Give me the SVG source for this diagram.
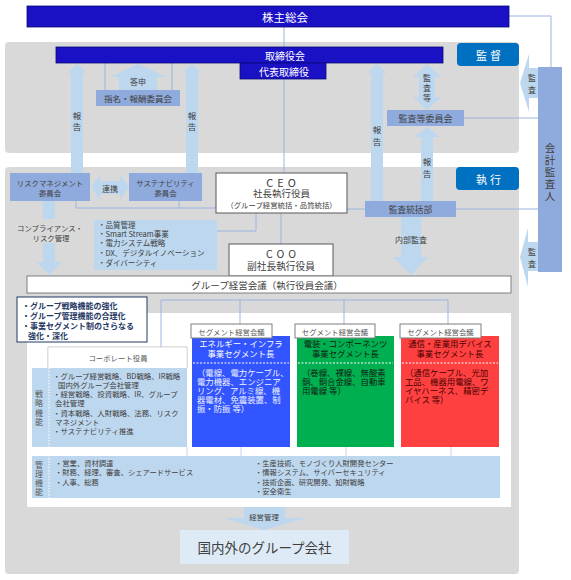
<svg xmlns="http://www.w3.org/2000/svg" width="571" height="580" viewBox="0 0 571 580">
<style>
text{font-family:"Noto Sans CJK JP","Noto Sans",sans-serif;dominant-baseline:central;text-anchor:middle;fill:#404040}
.w{fill:#fff}
.l{text-anchor:start}
.gray{fill:#d9d9d9}
.navy{fill:#1a10c4;stroke:#0c0a7a;stroke-width:0.8}
.mb{fill:#8faadc}
.lb{fill:#bdd7ee}
.ln{fill:none;stroke:#9ab4df;stroke-width:1}
.lnl{fill:none;stroke:#c9d6ea;stroke-width:1}
.wb{fill:#fff;stroke:#595959;stroke-width:1}
.lab{fill:#fff;stroke:#7f7f7f;stroke-width:1}
.s7{font-size:7.4px}
.s8{font-size:8px}
.s85{font-size:8.5px}
.seg{font-size:8.4px}
.g5{fill:#595959}
.nv{fill:#1f3864;font-weight:bold;font-size:8px}
</style>
<rect x="0" y="0" width="571" height="580" fill="#fff"/>
<g id="areas">
<rect x="5" y="42" width="514" height="111" rx="4" class="gray"/>
<rect x="5" y="167" width="514" height="407" rx="4" class="gray"/>
<rect x="27" y="313" width="484" height="194" fill="#fff"/>
</g>
<g id="connectors">
<path class="ln" d="M284 27V173"/>
<path class="ln" d="M509 16H551V67"/>
<path class="ln" d="M464 118H538"/>
<path class="ln" d="M347 209H538"/>
<path class="ln" d="M76 201V208H217M179 201V208"/>
<path class="ln" d="M217 231H256V213"/>
<path class="ln" d="M281 213V244"/>
<path class="ln" d="M105 63V90M172 63V90"/>
<path class="ln" d="M161 347V300H448V324M240 300V324M344 300V324"/>
<path class="lnl" d="M187 447V456M241 447V456M346 447V456M451 447V456"/>
<polygon class="lb" points="77,64 87,73 83,73 83,173 71,173 71,73 67,73"/>
<polygon class="lb" points="192,64 202,73 198,73 198,173 186,173 186,73 182,73"/>
<polygon class="lb" points="377,64 387,73 383,73 383,201 371,201 371,73 367,73"/>
<polygon class="lb" points="138,64 167,77 157,77 157,90 119,90 119,77 110,77"/>
<polygon class="lb" points="427,64 441,77 435,77 435,97 441,97 427,110 413,97 419,97 419,77 413,77"/>
<polygon class="lb" points="427,127 440,137 433,137 433,201 421,201 421,137 414,137"/>
<polygon class="lb" points="91,187 100,175 100,181 120,181 120,175 129,187 120,200 120,194 100,194 100,200"/>
<polygon class="lb" points="43,201 55,201 55,262 62,262 49,275 37,262 43,262"/>
<polygon class="lb" points="401,217 421,217 421,257 428,257 411,275 393,257 401,257"/>
<polygon class="lb" points="520,83 529,54 529,68 538,68 538,98 529,98 529,112"/>
<polygon class="lb" points="520,257 528,228 528,242 538,242 538,271 528,271 528,287"/>
<polygon class="lb" points="244,507 285,507 285,518 306,518 264,530 223,518 244,518"/>
<rect x="13" y="219" width="73" height="24" class="gray"/>
<text class="s7"><tspan x="50" y="227">コンプライアンス・</tspan><tspan x="51" y="237">リスク管理</tspan></text>
<text class="s85"><tspan x="77" y="115">報</tspan><tspan x="77" y="126">告</tspan></text>
<text class="s85"><tspan x="192" y="115">報</tspan><tspan x="192" y="126">告</tspan></text>
<text class="s85"><tspan x="377" y="129">報</tspan><tspan x="377" y="141">告</tspan></text>
<text class="s85"><tspan x="427" y="161">報</tspan><tspan x="427" y="173">告</tspan></text>
<text class="s8" x="138" y="81">答申</text>
<text class="s8"><tspan x="427" y="77">監</tspan><tspan x="427" y="87">査</tspan><tspan x="427" y="97">等</tspan></text>
<text class="s8" x="110" y="188">連携</text>
<text class="s8" x="411" y="239">内部監査</text>
<text class="s8"><tspan x="532" y="77">監</tspan><tspan x="532" y="89">査</tspan></text>
<text class="s8"><tspan x="532" y="251">監</tspan><tspan x="532" y="263">査</tspan></text>
<text class="s7" x="264" y="516">経営管理</text>
</g>
<g id="shareholders">
<rect x="27" y="6" width="482" height="21" class="navy"/>
<text class="w" x="285" y="16.5" font-size="11.5">株主総会</text>
</g>
<g id="board">
<rect x="56" y="47" width="387" height="16" class="navy"/>
<text class="w" x="285" y="55" font-size="10">取締役会</text>
</g>
<g id="rep-director">
<rect x="240" y="63" width="86" height="16" class="navy"/>
<text class="w" x="284" y="71" font-size="10">代表取締役</text>
</g>
<g id="kantoku">
<rect x="457" y="43" width="62" height="23" rx="4" fill="#0070c0"/>
<text class="w" x="490" y="54.5" font-size="11" letter-spacing="3">監督</text>
</g>
<g id="shikko">
<rect x="456" y="167" width="63" height="23" rx="4" fill="#0070c0"/>
<text class="w" x="490" y="178.5" font-size="11" letter-spacing="3">執行</text>
</g>
<g id="nomination">
<rect x="96" y="90" width="84" height="16" class="mb"/>
<text class="s85" x="138" y="98">指名・報酬委員会</text>
</g>
<g id="audit-committee">
<rect x="387" y="110" width="77" height="16" class="mb"/>
<text font-size="9" x="425.5" y="118">監査等委員会</text>
</g>
<g id="auditor">
<rect x="538" y="67" width="24" height="205" class="mb"/>
<text font-size="10.5"><tspan x="550" y="147">会</tspan><tspan x="550" y="159">計</tspan><tspan x="550" y="171">監</tspan><tspan x="550" y="183">査</tspan><tspan x="550" y="195">人</tspan></text>
</g>
<g id="risk-committee">
<rect x="10" y="173" width="80" height="28" class="mb"/>
<text class="s7"><tspan x="50" y="182">リスクマネジメント</tspan><tspan x="50" y="192">委員会</tspan></text>
</g>
<g id="sustainability-committee">
<rect x="129" y="173" width="73" height="28" class="mb"/>
<text class="s7"><tspan x="165.5" y="182">サステナビリティ</tspan><tspan x="165.5" y="192">委員会</tspan></text>
</g>
<g id="ceo">
<rect x="216" y="173" width="131" height="40" class="wb"/>
<text><tspan font-size="11" x="283" y="182" letter-spacing="4">CEO</tspan><tspan font-size="9.5" x="281.5" y="193">社長執行役員</tspan><tspan font-size="7.4" x="281.5" y="204">（グループ経営統括・品質統括）</tspan></text>
</g>
<g id="audit-dept">
<rect x="365" y="201" width="91" height="16" class="mb"/>
<text font-size="8.7" x="410.5" y="209">監査統括部</text>
</g>
<g id="ceo-list">
<rect x="94" y="220" width="123" height="50" class="lb"/>
<text class="l" font-size="7.5"><tspan x="98" y="224">・品質管理</tspan><tspan x="98" y="233">・Smart Stream事業</tspan><tspan x="98" y="242">・電力システム戦略</tspan><tspan x="98" y="252">・DX、デジタルイノベーション</tspan><tspan x="98" y="262">・ダイバーシティ</tspan></text>
</g>
<g id="coo">
<rect x="229" y="244" width="104" height="32" class="wb"/>
<text><tspan font-size="10.5" x="283" y="253" letter-spacing="4">COO</tspan><tspan font-size="9.7" x="281" y="266">副社長執行役員</tspan></text>
</g>
<g id="group-meeting">
<rect x="27" y="276" width="484" height="17" fill="#fff" stroke="#7f7f7f" stroke-width="1"/>
<text font-size="9.5" x="267" y="284.5">グループ経営会議（執行役員会議）</text>
</g>
<g id="strategy-note">
<rect x="17" y="297" width="130" height="45" fill="#fff" stroke="#1f3864" stroke-width="1"/>
<text class="l nv"><tspan x="22" y="305">・グループ戦略機能の強化</tspan><tspan x="22" y="315">・グループ管理機能の合理化</tspan><tspan x="22" y="325">・事業セグメント制のさらなる</tspan><tspan x="28" y="335">強化・深化</tspan></text>
</g>
<g id="corporate">
<rect x="32" y="368" width="155" height="79" class="lb"/>
<path d="M48 347V368M187 347V368M48 347H187" fill="none" stroke="#bfbfbf" stroke-width="1"/>
<rect x="48.5" y="347.5" width="138" height="20" fill="#fff"/>
<text class="s7 g5" x="118" y="357.5">コーポレート役員</text>
<text class="s8 g5"><tspan x="39" y="393">戦</tspan><tspan x="39" y="402">略</tspan><tspan x="39" y="412">機</tspan><tspan x="39" y="421">能</tspan></text>
<text class="l s7"><tspan x="53" y="375">・グループ経営戦略、BD戦略、IR戦略</tspan><tspan x="58" y="384">国内外グループ会社管理</tspan><tspan x="53" y="393">・経営戦略、投資戦略、IR、グループ</tspan><tspan x="55" y="402">会社管理</tspan><tspan x="53" y="412">・資本戦略、人財戦略、法務、リスク</tspan><tspan x="55" y="421">マネジメント</tspan><tspan x="53" y="430">・サステナビリティ推進</tspan></text>
</g>
<g id="segment-energy">
<rect x="192" y="336" width="98" height="111" fill="#3355ff"/>
<path d="M193 363H289" stroke="#fff" stroke-width="1" stroke-dasharray="2,1.5"/>
<text class="seg w"><tspan x="241" y="343">エネルギー・インフラ</tspan><tspan x="241" y="353">事業セグメント長</tspan></text>
<text class="seg l" style="fill:#eef2ff"><tspan x="197" y="372">（電線、電力ケーブル、</tspan><tspan x="197" y="381">電力機器、エンジニア</tspan><tspan x="197" y="390">リング、アルミ線、機</tspan><tspan x="197" y="399">器電材、免震装置、制</tspan><tspan x="197" y="408">振・防振 等）</tspan></text>
<rect x="191" y="324" width="81" height="14" class="lab"/>
<text class="s7 g5" x="231.5" y="331">セグメント経営会議</text>
</g>
<g id="segment-electronics">
<rect x="297" y="336" width="97" height="111" fill="#00b050"/>
<path d="M298 363H393" stroke="#fff" stroke-width="1" stroke-dasharray="2,1.5"/>
<text class="seg" style="fill:#102010"><tspan x="345.5" y="343">電装・コンポーネンツ</tspan><tspan x="345.5" y="353">事業セグメント長</tspan></text>
<text class="seg l" style="fill:#102010"><tspan x="302" y="372">（巻線、裸線、無酸素</tspan><tspan x="302" y="381">銅、銅合金線、自動車</tspan><tspan x="302" y="390">用電線 等）</tspan></text>
<rect x="295" y="324" width="80" height="14" class="lab"/>
<text class="s7 g5" x="335" y="331">セグメント経営会議</text>
</g>
<g id="segment-communications">
<rect x="401" y="336" width="98" height="111" fill="#ff4040"/>
<path d="M402 363H498" stroke="#fff" stroke-width="1" stroke-dasharray="2,1.5"/>
<text class="seg" style="fill:#4a0000"><tspan x="450" y="343">通信・産業用デバイス</tspan><tspan x="450" y="353">事業セグメント長</tspan></text>
<text class="seg l" style="fill:#4a0000"><tspan x="405" y="372">（通信ケーブル、光加</tspan><tspan x="405" y="381">工品、機器用電線、ワ</tspan><tspan x="405" y="390">イヤハーネス、精密デ</tspan><tspan x="405" y="399">バイス 等）</tspan></text>
<rect x="400" y="324" width="81" height="14" class="lab"/>
<text class="s7 g5" x="440.5" y="331">セグメント経営会議</text>
</g>
<g id="management-functions">
<rect x="32" y="456" width="468" height="42" class="lb"/>
<path d="M49 368V498" stroke="#fff" stroke-width="1" stroke-dasharray="1.5,1.5"/>
<text class="s8 g5"><tspan x="39" y="464">管</tspan><tspan x="39" y="473">理</tspan><tspan x="39" y="482">機</tspan><tspan x="39" y="491">能</tspan></text>
<text class="l" font-size="7.3"><tspan x="55" y="463">・営業、資材調達</tspan><tspan x="55" y="472">・財務、経理、審査、シェアードサービス</tspan><tspan x="55" y="482">・人事、総務</tspan></text>
<text class="l" font-size="7.3"><tspan x="255" y="463">・生産技術、モノづくり人財開発センター</tspan><tspan x="255" y="472">・情報システム、サイバーセキュリティ</tspan><tspan x="255" y="482">・技術企画、研究開発、知財戦略</tspan><tspan x="255" y="491">・安全衛生</tspan></text>
</g>
<g id="group-companies">
<rect x="180" y="530" width="169" height="34" fill="#deebf7"/>
<text font-size="13.5" x="264.5" y="547">国内外のグループ会社</text>
</g>
</svg>
